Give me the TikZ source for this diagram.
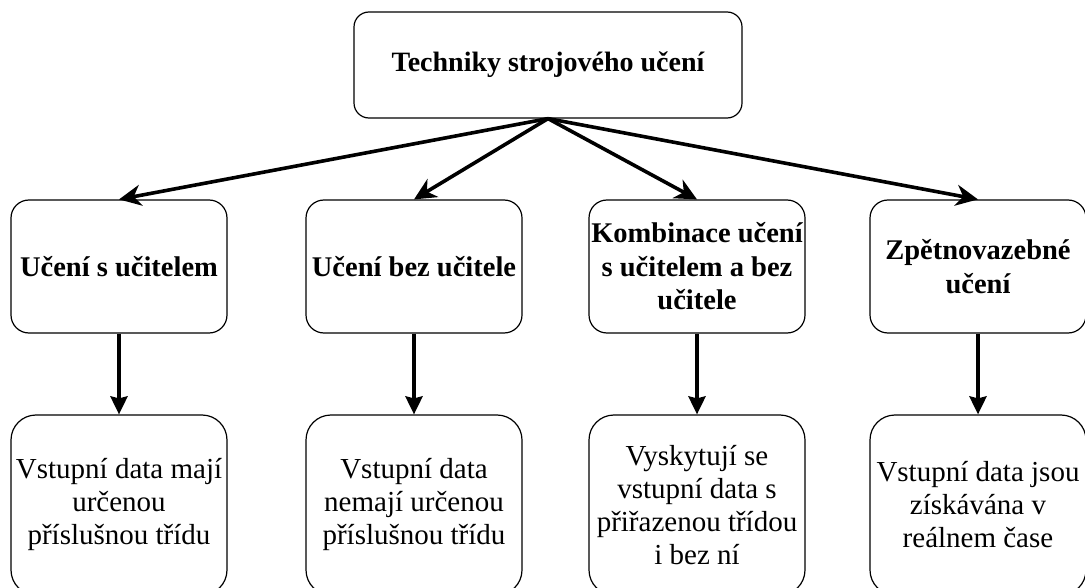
\documentclass[tikz,border=0pt]{standalone}
\usepackage{fontspec}
\setmainfont{Liberation Serif}
\usetikzlibrary{arrows.meta}
\begin{document}
\begin{tikzpicture}[x=1pt,y=-1pt,
  box/.style={draw=black,line width=1.2pt,align=center,inner sep=0pt},
  topbox/.style={box,rounded corners=15pt,minimum width=388pt,minimum height=106pt,
    font=\fontsize{28}{33}\selectfont\bfseries},
  midbox/.style={box,rounded corners=18pt,minimum width=216pt,minimum height=133pt,
    font=\fontsize{28.5}{33.5}\selectfont\bfseries},
  lowbox/.style={box,rounded corners=25pt,minimum width=216pt,minimum height=180pt,
    font=\fontsize{29}{33}\selectfont},
  link/.style={line width=3.6pt,-{Stealth[length=22pt,width=21pt,inset=7pt]}},
  down/.style={line width=3.6pt,-{Stealth[length=18pt,width=17pt,inset=2pt]}}
]
\clip (0,0) rectangle (1085,588);
\useasboundingbox (0,0) rectangle (1085,588);
\fill[white] (0,0) rectangle (1085,588);

\node[topbox] (root) at (548,65) {Techniky strojového učení};

\node[midbox] (m1) at (119,266.5) {Učení s učitelem};
\node[midbox] (m2) at (414,266.5) {Učení bez učitele};
\node[midbox] (m3) at (697,266.5) {Kombinace učení\\s učitelem a bez\\učitele};
\node[midbox] (m4) at (978,266.5) {Zpětnovazebné\\učení};

\node[lowbox] (l1) at (119,505) {Vstupní data mají\\určenou\\příslušnou třídu};
\node[lowbox] (l2) at (414,505) {Vstupní data\\nemají určenou\\příslušnou třídu};
\node[lowbox] (l3) at (697,505) {Vyskytují se\\vstupní data s\\přiřazenou třídou\\i bez ní};
\node[lowbox] (l4) at (978,505) {Vstupní data jsou\\získávána v\\reálnem čase};

\foreach \m in {m1,m2,m3,m4}
  \draw[link] (root.south) -- (\m.north);
\foreach \m/\l in {m1/l1,m2/l2,m3/l3,m4/l4}
  \draw[down] (\m.south) -- (\l.north);
\end{tikzpicture}
\end{document}
